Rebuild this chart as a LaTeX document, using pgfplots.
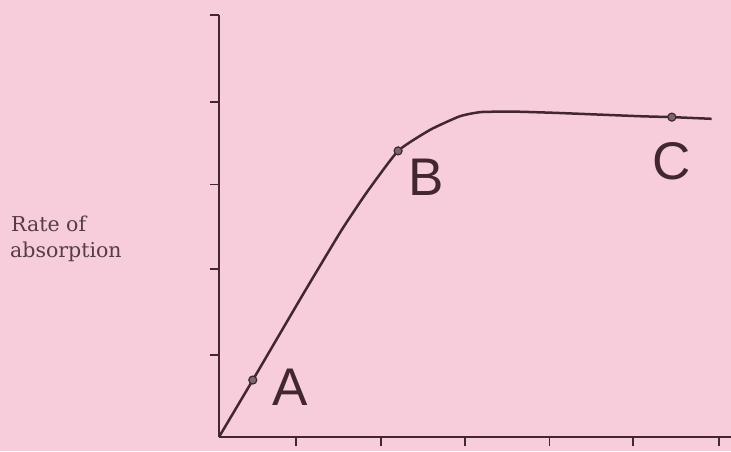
\documentclass[border=0pt]{standalone}
\usepackage{fontspec}
\usepackage{pgfplots}
\pgfplotsset{compat=1.18}
\newfontfamily\sansfont{Liberation Sans}
\newfontfamily\labelfont{DejaVu Serif}
\definecolor{paper}{RGB}{247,205,219}
\definecolor{ink}{RGB}{66,38,48}

\begin{document}
\begin{tikzpicture}[x=1pt, y=1pt]
\useasboundingbox (0,0) rectangle (731,451);
\fill[paper] (0,0) rectangle (731,451);
% y-axis label, left-aligned in two lines
\node[anchor=base west, inner sep=0pt, font=\labelfont\fontsize{20.5}{24}\selectfont, color=ink!90] at (11,220) {Rate of};
\node[anchor=base west, inner sep=0pt, font=\labelfont\fontsize{20.5}{24}\selectfont, color=ink!90] at (10,194) {absorption};
\begin{axis}[
  at={(219pt,14pt)}, anchor=south west,
  scale only axis, width=512pt, height=422pt,
  xmin=0, xmax=6.06, ymin=0, ymax=5,
  axis lines=left,
  axis line style={-, line width=2.2pt, color=ink},
  xtick={0.91,1.92,2.91,3.91,4.90,5.92},
  ytick={0.97,1.99,2.99,3.97,5},
  xticklabels={}, yticklabels={},
  tick align=outside, major tick length=9pt,
  tick style={line width=1.7pt, color=ink},
  clip=false
]
\addplot[ink, line width=2.5pt, smooth, tension=0.3] coordinates {
  (0,0) (0.40,0.675) (1.0,1.70) (1.45,2.45) (1.75,2.90) (2.12,3.39)
  (2.50,3.64) (2.85,3.80) (3.1,3.85) (3.5,3.855) (4.0,3.84) (4.5,3.82)
  (5.0,3.80) (5.36,3.79) (5.83,3.77)
};
\addplot[only marks, mark=*, mark size=4pt, mark options={fill=ink!70, draw=ink, line width=1.2pt}]
  coordinates {(0.40,0.675) (2.12,3.39) (5.36,3.79)};
\node[font=\sansfont\fontsize{53}{60}\selectfont, color=ink] at (axis cs:0.84,0.59) {A};
\node[font=\sansfont\fontsize{53}{60}\selectfont, color=ink] at (axis cs:2.45,3.08) {B};
\node[font=\sansfont\fontsize{53}{60}\selectfont, color=ink] at (axis cs:5.36,3.27) {C};
\end{axis}
\end{tikzpicture}
\end{document}
